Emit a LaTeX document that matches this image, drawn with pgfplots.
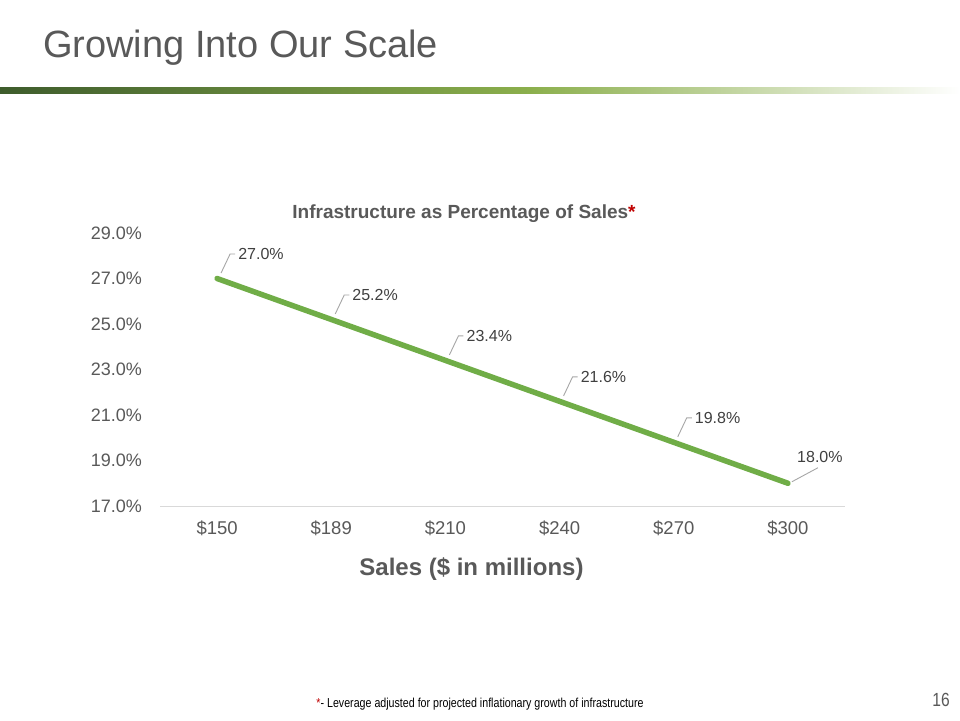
\documentclass[border=0pt]{standalone}
\usepackage{pgfplots}
\pgfplotsset{compat=1.18}
\usepackage{fontspec}
\setmainfont{Liberation Sans}
\newfontfamily\narrowfont{Liberation Sans}[FakeStretch=0.82]

\definecolor{linegreen}{HTML}{70AD47}
\definecolor{labelgray}{HTML}{595959}
\definecolor{datagray}{HTML}{404040}
\definecolor{axisgray}{HTML}{D9D9D9}
\definecolor{leadgray}{HTML}{A6A6A6}
\definecolor{barDark}{HTML}{3E5C2C}
\definecolor{barMid}{HTML}{8BAF4C}
\definecolor{starred}{HTML}{C00000}

\tikzset{leader/.style={draw=leadgray, line width=0.9pt}}

\begin{document}
\begin{tikzpicture}
% slide background, pixel coordinates (y downwards)
\begin{scope}[x=1pt,y=-1pt]
  \path[fill=white] (0,0) rectangle (960,720);
  \shade[left color=barDark, right color=barMid] (0,87) rectangle (530,93);
  \shade[left color=barMid, right color=white] (529.5,87) rectangle (960,93);
  \node[anchor=base west, inner sep=0pt, text=labelgray,
        font=\fontsize{38}{40}\selectfont] at (43,57) {Growing Into Our Scale};
  \node[inner sep=0pt, font=\narrowfont\fontsize{13}{14}\selectfont]
        at (480,704) {\textcolor{starred}{*}- Leverage adjusted for projected inflationary growth of infrastructure};
  \node[inner sep=0pt, text=labelgray, font=\narrowfont\fontsize{19}{20}\selectfont]
        at (941,700) {16};
\end{scope}

\begin{axis}[
    at={(160pt,-506pt)}, anchor=south west,
    width=685pt, height=273pt, scale only axis,
    xmin=-0.5, xmax=5.5, ymin=17, ymax=29,
    xtick={0,...,5},
    xticklabels={\$150,\$189,\$210,\$240,\$270,\$300},
    ytick={17,19,...,29},
    yticklabel={\pgfmathprintnumber[fixed,fixed zerofill,precision=1]{\tick}\%},
    axis x line*=bottom, axis y line*=left,
    x axis line style={draw=axisgray, line width=1pt, -},
    y axis line style={draw=none},
    major tick length=0pt,
    tick label style={font=\fontsize{18}{20}\selectfont, text=labelgray},
    xticklabel style={anchor=center, yshift=-22pt, font=\fontsize{18.5}{20}\selectfont},
    yticklabel style={anchor=east, inner sep=0pt, xshift=-18pt},
    title={Infrastructure as Percentage of Sales\textcolor{starred}{*}},
    title style={at={(axis description cs:0.4438,1)}, anchor=center, yshift=13pt,
                 font=\bfseries\fontsize{19}{21}\selectfont, text=labelgray},
    xlabel={Sales (\$ in millions)},
    xlabel style={at={(axis description cs:0.4547,0)}, anchor=center, yshift=-63pt,
                  font=\bfseries\fontsize{24}{26}\selectfont, text=labelgray},
    clip=false,
    /pgf/number format/assume math mode=true,
  ]
  \addplot[color=linegreen, line width=5.5pt, line cap=round, line join=round, mark=none]
    coordinates {(0,27) (1,25.2) (2,23.4) (3,21.6) (4,19.8) (5,18)};

  % data labels
  \addplot[draw=none, mark=none,
    nodes near coords={\pgfmathprintnumber[fixed,fixed zerofill,precision=1]{\pgfplotspointmeta}\%},
    nodes near coords style={anchor=west, inner sep=0pt, xshift=21pt, yshift=24.5pt,
                             font=\fontsize{16}{18}\selectfont, text=datagray}]
    coordinates {(0,27) (1,25.2) (2,23.4) (3,21.6) (4,19.8)};
  \addplot[draw=none, mark=none,
    nodes near coords={\pgfmathprintnumber[fixed,fixed zerofill,precision=1]{\pgfplotspointmeta}\%},
    nodes near coords style={anchor=center, inner sep=0pt, xshift=32pt, yshift=26pt,
                             font=\fontsize{16}{18}\selectfont, text=datagray}]
    coordinates {(5,18)};

  % leader lines
  \draw[leader] ([xshift=4pt,yshift=5.5pt]axis cs:0,27)   -- ++(9pt,19pt) -- ++(5pt,0pt);
  \draw[leader] ([xshift=4pt,yshift=5.5pt]axis cs:1,25.2) -- ++(9pt,19pt) -- ++(5pt,0pt);
  \draw[leader] ([xshift=4pt,yshift=5.5pt]axis cs:2,23.4) -- ++(9pt,19pt) -- ++(5pt,0pt);
  \draw[leader] ([xshift=4pt,yshift=5.5pt]axis cs:3,21.6) -- ++(9pt,19pt) -- ++(5pt,0pt);
  \draw[leader] ([xshift=4pt,yshift=5.5pt]axis cs:4,19.8) -- ++(9pt,19pt) -- ++(5pt,0pt);
  \draw[leader] ([xshift=4pt,yshift=1.5pt]axis cs:5,18)   -- ++(26pt,14pt);
\end{axis}
\end{tikzpicture}
\end{document}
